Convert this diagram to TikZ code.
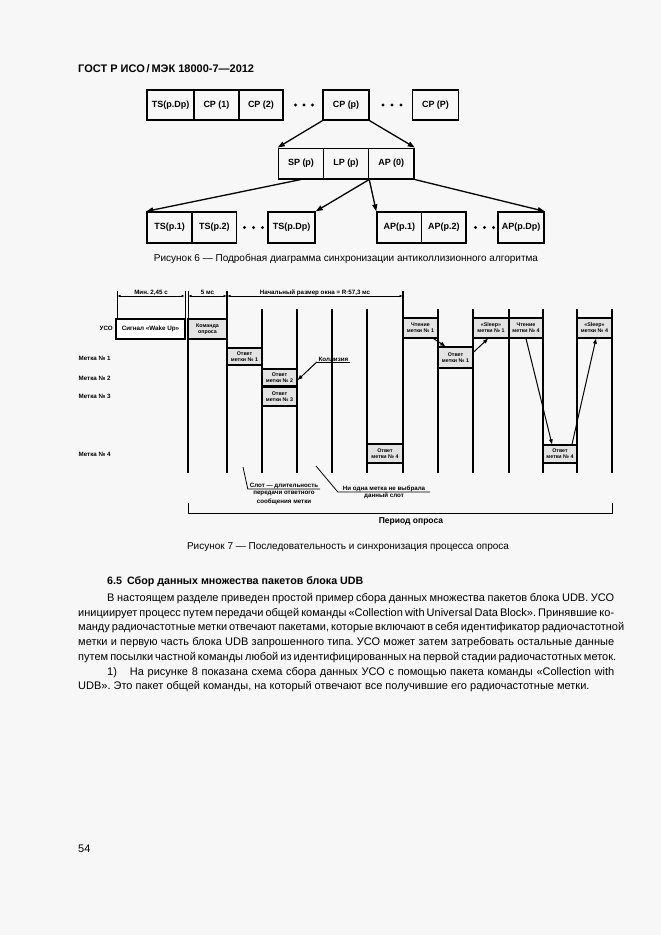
\documentclass[tikz,border=0pt]{standalone}
\usepackage{fontspec}
\setmainfont{Liberation Sans}
\usetikzlibrary{arrows.meta,calc}
\definecolor{bg}{HTML}{F7F7F7}
\frenchspacing
\begin{document}
\begin{tikzpicture}[x=1pt,y=-1pt,
  b6/.style={draw, line width=1.5pt, inner sep=0pt, font=\bfseries\fontsize{9}{10}\selectfont},
  b7/.style={draw, line width=1.4pt, fill=gray!22, inner sep=0pt, align=center, font=\bfseries\fontsize{5.3}{5.9}\selectfont},
  arr6/.style={line width=1.3pt, -{Triangle[length=7pt,width=5pt]}},
  arr7/.style={line width=1pt, -{Triangle[length=5pt,width=3.6pt]}},
  slotline/.style={line width=1.6pt},
  extline/.style={line width=0.9pt},
  dimline/.style={line width=0.8pt, {Latex[length=3.5pt,width=2.5pt]}-{Latex[length=3.5pt,width=2.5pt]}},
  lbl/.style={font=\bfseries\fontsize{6.2}{7}\selectfont, inner sep=0.5pt},
  body/.style={font=\fontsize{11}{14.7}\selectfont\frenchspacing, inner sep=0pt, anchor=base west},
  capt/.style={font=\fontsize{10}{12}\selectfont, inner sep=0pt, anchor=base}
]
\fill[bg] (0,0) rectangle (661,935);
\useasboundingbox (0,0) rectangle (661,935);

% header
\node[font=\bfseries\fontsize{11}{13}\selectfont, inner sep=0pt, anchor=base west] (hdr) at (78,72) {ГОСТ Р ИСО\,/\,МЭК 18000-7—2012};

% ---------- Figure 6 ----------
\node[b6, minimum width=47pt, minimum height=30pt] (ts)  at (170.5,105) {TS(p.Dp)};
\node[b6, minimum width=45pt, minimum height=30pt] (cp1) at (216.5,105) {CP (1)};
\node[b6, minimum width=44pt, minimum height=30pt] (cp2) at (261,105) {CP (2)};
\node[b6, minimum width=46pt, minimum height=30pt] (cpp) at (346,105) {CP (p)};
\node[b6, minimum width=46pt, minimum height=30pt] (cpP) at (435.5,105) {CP (P)};

\node[b6, minimum width=45pt, minimum height=30.5pt] (sp)  at (301,163.5) {SP (p)};
\node[b6, minimum width=45pt, minimum height=30.5pt] (lp)  at (346,163.5) {LP (p)};
\node[b6, minimum width=45.5pt, minimum height=30.5pt] (ap0) at (391.25,163.5) {AP (0)};

\node[b6, minimum width=45pt, minimum height=31pt] (tsp1) at (169.5,227.6) {TS(p.1)};
\node[b6, minimum width=44.5pt, minimum height=31pt] (tsp2) at (214.25,227.6) {TS(p.2)};
\node[b6, minimum width=47pt, minimum height=31pt] (tspD) at (291.5,227.6) {TS(p.Dp)};
\node[b6, minimum width=44.5pt, minimum height=31pt] (app1) at (399.25,227.6) {AP(p.1)};
\node[b6, minimum width=44.5pt, minimum height=31pt] (app2) at (443.75,227.6) {AP(p.2)};
\node[b6, minimum width=46pt, minimum height=31pt] (appD) at (521,227.6) {AP(p.Dp)};

\foreach \x in {295.5,304,312.5,383,392,401} \fill (\x,105) circle (1.6pt);
\foreach \x in {244.5,253.5,262.5,475.5,484.5,493.5} \fill (\x,227.5) circle (1.6pt);

\draw[arr6] (cpp.south west) -- (sp.north west);
\draw[arr6] (cpp.south east) -- (ap0.north east);
\draw[arr6] (sp.south) -- (tsp1.north west);
\draw[arr6] (lp.south east) -- (tspD.north east);
\draw[arr6] (lp.south east) -- (app1.north west);
\draw[arr6] (ap0.south east) -- (appD.north east);

\node[capt] (cap6) at (346,261) {Рисунок 6 — Подробная диаграмма синхронизации антиколлизионного алгоритма};

% ---------- Figure 7 ----------
% slot lines
\foreach \x in {262,297,332,367,438,473,509,543,577,612} \draw[slotline] (\x,309) -- (\x,473);
\draw[slotline] (227,291) -- (227,473);
\draw[slotline] (403,291) -- (403,473);
\draw[slotline] (188,319) -- (188,473);
\draw[extline] (117,291) -- (117,319);
\draw[extline] (185,291) -- (185,319);
\draw[extline] (188,291) -- (188,319);

% dimensions
\draw[dimline] (117,296) -- (185,296);
\draw[dimline] (188,296) -- (227,296);
\draw[dimline] (227,296) -- (403,296);
\node[lbl, anchor=base] (d1) at (151,294) {Мин. 2,45 с};
\node[lbl, anchor=base] (d2) at (207.5,294) {5 мс};
\node[lbl, anchor=base] (d3) at (315,294) {Начальный размер окна = R·57,3 мс};

% row labels
\node[lbl, anchor=base west] (uso) at (99,330.5) {УСО};
\node[lbl, anchor=base west] (t1) at (78,360) {Метка № 1};
\node[lbl, anchor=base west] (t2) at (78,380) {Метка № 2};
\node[lbl, anchor=base west] (t3) at (78,398.5) {Метка № 3};
\node[lbl, anchor=base west] (t4) at (78,456.5) {Метка № 4};

% boxes
\node[b7, fill=white, minimum width=69pt, minimum height=20pt, font=\bfseries\fontsize{6.3}{7}\selectfont] (wake) at (150.5,329) {Сигнал «Wake Up»};
\node[b7, minimum width=39pt, minimum height=20pt] (cmd) at (207.5,329) {Команда\\опроса};
\node[b7, minimum width=35pt, minimum height=17pt] (r1a) at (244.5,356.5) {Ответ\\метки № 1};
\node[b7, minimum width=35pt, minimum height=17pt] (r2) at (279.5,377.5) {Ответ\\метки № 2};
\node[b7, minimum width=35pt, minimum height=19pt] (r3) at (279.5,396.5) {Ответ\\метки № 3};
\node[b7, minimum width=36pt, minimum height=19pt] (r4a) at (385,453.5) {Ответ\\метки № 4};
\node[b7, minimum width=35pt, minimum height=20pt] (rd1) at (420.5,328) {Чтение\\метки № 1};
\node[b7, minimum width=35pt, minimum height=21pt] (r1b) at (455.5,357.5) {Ответ\\метки № 1};
\node[b7, minimum width=36pt, minimum height=20pt] (sl1) at (491,328) {«Sleep»\\метки № 1};
\node[b7, minimum width=34pt, minimum height=20pt] (rd4) at (526,328) {Чтение\\метки № 4};
\node[b7, minimum width=34pt, minimum height=18pt] (r4b) at (560,454) {Ответ\\метки № 4};
\node[b7, minimum width=35pt, minimum height=20pt] (sl4) at (594.5,328) {«Sleep»\\метки № 4};

% arrows between boxes
\draw[arr7] ([xshift=-5pt]rd1.south east) -- ([xshift=8pt]r1b.north west);
\draw[arr7] ([yshift=5.5pt]r1b.east) -- ([xshift=-3pt]sl1.south);
\draw[arr7] (rd4.south) -- ([xshift=-8pt]r4b.north);
\draw[arr7] ([xshift=12pt]r4b.north) -- ([xshift=1.5pt]sl4.south);

% collision
\node[lbl, minimum width=33pt, anchor=south] (koll) at (333.5,362) {Коллизия};
\draw[line width=0.8pt] (koll.south west) -- (koll.south east);
\draw[arr7] (koll.south west) -- ([yshift=-2.5pt]r2.east);

% annotations
\coordinate (slotpt) at (243,467);
\node[lbl, minimum width=72pt, anchor=south] (slot1) at (284,489) {Слот — длительность};
\node[lbl, align=center, anchor=north, font=\bfseries\fontsize{6.2}{9.5}\selectfont] (slot2) at (284,490) {передачи ответного\\сообщения метки};
\draw[line width=0.8pt] (slotpt) -- (slot1.south west) -- (slot1.south east);

\coordinate (nonept) at (316,466);
\node[lbl, minimum width=92pt, anchor=south] (none1) at (384,492) {Ни одна метка не выбрала};
\node[lbl, anchor=north] (none2) at (384,492.5) {данный слот};
\draw[line width=0.8pt] (nonept) -- (none1.south west) -- (none1.south east);

% period
\draw[line width=0.9pt] (188,503) -- (188,513) -- (612,513) -- (612,503);
\node[font=\bfseries\fontsize{8.5}{10}\selectfont, inner sep=0pt, anchor=base] (per) at (411,523) {Период опроса};

\node[capt] (cap7) at (348,549) {Рисунок 7 — Последовательность и синхронизация процесса опроса};

% ---------- text ----------
\node[font=\bfseries\fontsize{10.7}{13}\selectfont, inner sep=0pt, anchor=base west] (sec) at (107,584) {6.5\hspace{5pt}Сбор данных множества пакетов блока UDB};

\node[body] (l1) at (107,601) {\makebox[507pt][s]{В настоящем разделе приведен простой пример сбора данных множества пакетов блока UDB. УСО}};
\node[body] (l2) at (78,616) {\makebox[536pt][s]{инициирует процесс путем передачи общей команды «Collection with Universal Data Block». Принявшие ко-}};
\node[body] (l3) at (78,630.5) {\makebox[536pt][s]{манду радиочастотные метки отвечают пакетами, которые включают в себя идентификатор радиочастотной}};
\node[body] (l4) at (78,645.5) {\makebox[536pt][s]{метки и первую часть блока UDB запрошенного типа. УСО может затем затребовать остальные данные}};
\node[body] (l5) at (78,660) {\makebox[536pt][s]{путем посылки частной команды любой из идентифицированных на первой стадии радиочастотных меток.}};
\node[body] (l6) at (107,675) {\makebox[507pt][s]{1)\hspace{13pt}На рисунке 8 показана схема сбора данных УСО с помощью пакета команды «Collection with}};
\node[body] (l7) at (78,689.5) {UDB». Это пакет общей команды, на который отвечают все получившие его радиочастотные метки.};

\node[body] (pg) at (78,852) {54};
\end{tikzpicture}
\end{document}
